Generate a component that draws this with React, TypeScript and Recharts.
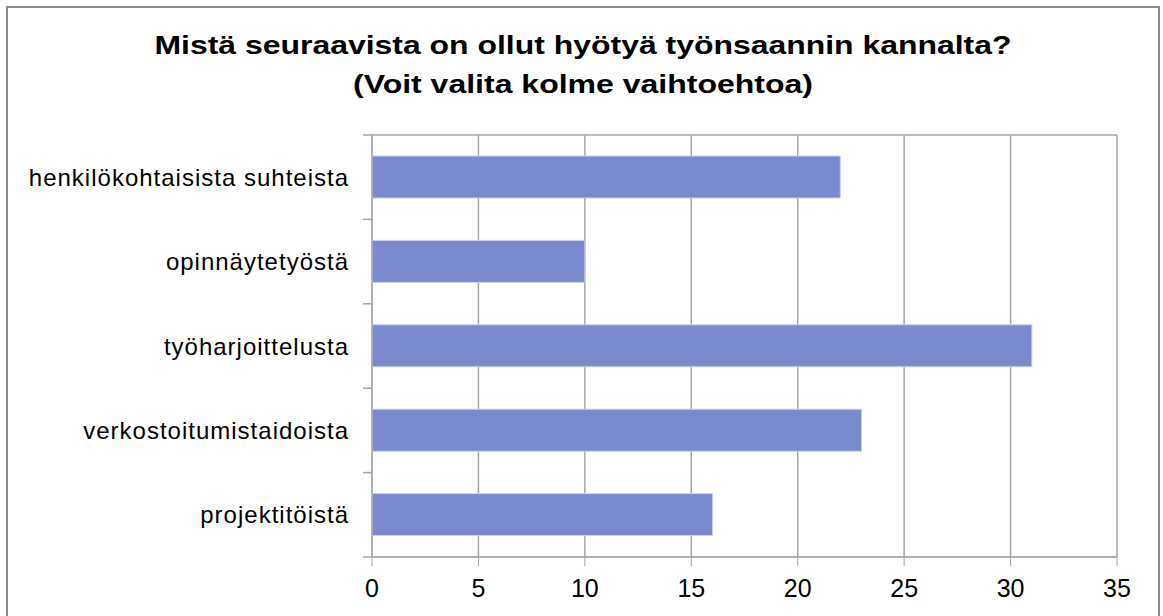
import { BarChart, Bar, XAxis, YAxis, CartesianGrid } from "recharts";

const categories = [
  "henkilökohtaisista suhteista",
  "opinnäytetyöstä",
  "työharjoittelusta",
  "verkostoitumistaidoista",
  "projektitöistä",
];
const answers = [22, 10, 31, 23, 16];
const valueTicks = [0, 5, 10, 15, 20, 25, 30, 35];

const titleLines = [
  "Mistä seuraavista on ollut hyötyä työnsaannin kannalta?",
  "(Voit valita kolme vaihtoehtoa)",
];

const font = '"Liberation Sans", Arial, sans-serif';
const gridColor = "#a6a6a6";

const CHART_W = 1163;
const CHART_H = 616;
const MARGIN_TOP = 135;
const X_AXIS_H = 59;
const LABEL_GAP = 23;
const plotHeight = CHART_H - MARGIN_TOP - X_AXIS_H;
const band = plotHeight / categories.length;

// category label plus Excel-style tick marks between categories
function CategoryTick(props: any) {
  const { x, y, payload, index } = props;
  const axisX = x + LABEL_GAP;
  return (
    <g>
      <line x1={axisX - 9} x2={axisX} y1={y - band / 2} y2={y - band / 2} stroke={gridColor} strokeWidth={1.5} />
      {index === categories.length - 1 && (
        <line x1={axisX - 9} x2={axisX} y1={y + band / 2} y2={y + band / 2} stroke={gridColor} strokeWidth={1.5} />
      )}
      <text
        x={x}
        y={y}
        dy="0.355em"
        textAnchor="end"
        fill="#000"
        fontSize={24}
        fontFamily={font}
        style={{ letterSpacing: "1px" }}
      >
        {payload.value}
      </text>
    </g>
  );
}

export default function App() {
  const chartData = categories.map((name, i) => ({ name, value: answers[i] }));

  return (
    <div
      style={{
        position: "absolute",
        left: 0,
        top: 0,
        width: CHART_W,
        height: CHART_H,
        background: "#fff",
        overflow: "hidden",
        fontFamily: font,
      }}
    >
      <div
        style={{
          position: "absolute",
          left: 6,
          top: 6,
          width: 1154,
          height: 700,
          border: "2px solid #8c8c8c",
          boxSizing: "border-box",
        }}
      />
      <svg width={CHART_W} height={120} style={{ position: "absolute", left: 0, top: 0 }}>
        <text
          x={583}
          y={54}
          textAnchor="middle"
          fontFamily={font}
          fontWeight="bold"
          fontSize={25}
          textLength={857}
          lengthAdjust="spacingAndGlyphs"
          fill="#000"
        >
          {titleLines[0]}
        </text>
        <text
          x={583}
          y={93}
          textAnchor="middle"
          fontFamily={font}
          fontWeight="bold"
          fontSize={25}
          textLength={460}
          lengthAdjust="spacingAndGlyphs"
          fill="#000"
        >
          {titleLines[1]}
        </text>
      </svg>
      <div style={{ position: "absolute", left: 0, top: 0 }}>
        <BarChart
          width={CHART_W}
          height={CHART_H}
          data={chartData}
          layout="vertical"
          margin={{ top: MARGIN_TOP, right: 46, bottom: 0, left: 0 }}
        >
          <CartesianGrid
            stroke={gridColor}
            strokeWidth={1.5}
            horizontalCoordinatesGenerator={({ offset }: any) => [
              offset.top,
              offset.top + offset.height,
            ]}
          />
          <XAxis
            type="number"
            domain={[0, 35]}
            ticks={valueTicks}
            interval={0}
            height={X_AXIS_H}
            tickSize={9}
            tickMargin={13}
            stroke={gridColor}
            tick={{ fill: "#000", fontSize: 25, fontFamily: font }}
          />
          <YAxis
            type="category"
            dataKey="name"
            width={372}
            tickLine={false}
            tickSize={0}
            tickMargin={LABEL_GAP}
            stroke={gridColor}
            interval={0}
            tick={<CategoryTick />}
          />
          <Bar
            dataKey="value"
            fill="#7b8ace"
            stroke="#c9cff0"
            strokeWidth={1}
            barSize={42}
            isAnimationActive={false}
          />
        </BarChart>
      </div>
    </div>
  );
}
